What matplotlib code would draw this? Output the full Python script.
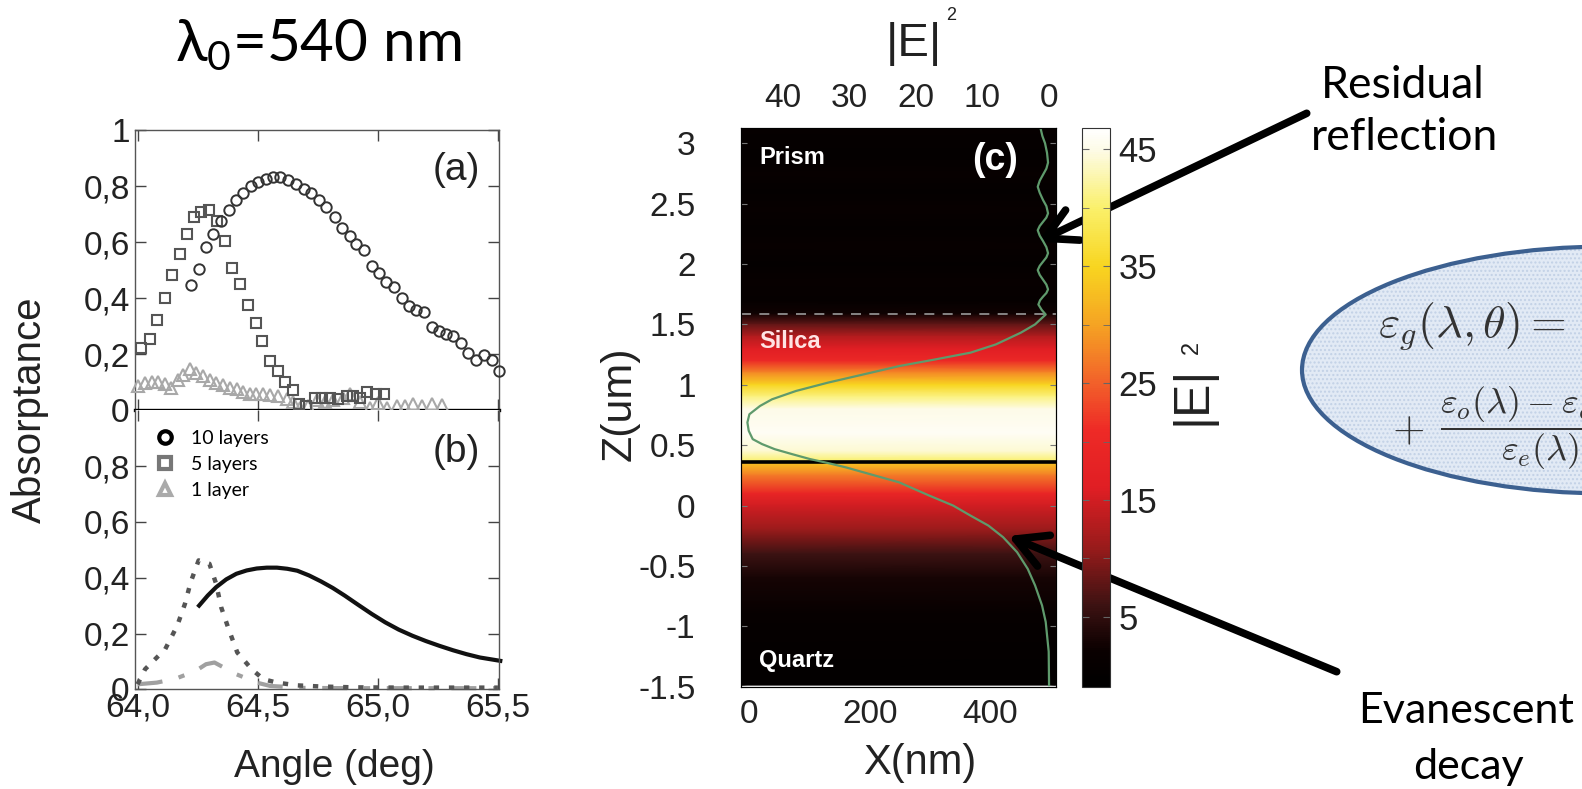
import matplotlib
matplotlib.use("Agg")
import matplotlib.pyplot as plt
import numpy as np
from matplotlib.colors import LinearSegmentedColormap
from matplotlib.patches import Ellipse
from matplotlib.lines import Line2D

W, H = 1582, 789

# (a) measured absorptance vs angle
ang_10 = [64.221, 64.254, 64.285, 64.315, 64.348, 64.379, 64.408, 64.439, 64.472, 64.503,
          64.535, 64.563, 64.594, 64.627, 64.661, 64.692, 64.723, 64.754, 64.785, 64.820,
          64.851, 64.883, 64.911, 64.942, 64.975, 65.006, 65.035, 65.066, 65.099, 65.130,
          65.161, 65.193, 65.225, 65.254, 65.285, 65.315, 65.348, 65.376, 65.408, 65.442,
          65.475, 65.503]
abs_10 = [0.446, 0.505, 0.583, 0.629, 0.677, 0.717, 0.753, 0.777, 0.800, 0.816,
          0.825, 0.834, 0.834, 0.822, 0.807, 0.792, 0.776, 0.753, 0.728, 0.689,
          0.653, 0.623, 0.593, 0.571, 0.514, 0.490, 0.460, 0.440, 0.400, 0.373,
          0.358, 0.352, 0.298, 0.283, 0.273, 0.265, 0.241, 0.205, 0.181, 0.199,
          0.181, 0.139]

ang_5 = [64.014, 64.052, 64.080, 64.113, 64.144, 64.175, 64.204, 64.235, 64.266, 64.299,
         64.331, 64.362, 64.393, 64.425, 64.458, 64.492, 64.520, 64.552, 64.583, 64.615,
         64.648, 64.672, 64.703, 64.738, 64.766, 64.800, 64.835, 64.870, 64.898, 64.925,
         64.956, 64.992, 65.025]
abs_5 = [0.223, 0.253, 0.322, 0.400, 0.484, 0.560, 0.631, 0.689, 0.710, 0.716,
         0.675, 0.605, 0.508, 0.452, 0.376, 0.313, 0.249, 0.175, 0.141, 0.102,
         0.072, 0.021, 0.015, 0.045, 0.045, 0.045, 0.039, 0.051, 0.051, 0.043,
         0.066, 0.057, 0.057]

ang_1 = [64.002, 64.030, 64.058, 64.085, 64.113, 64.141, 64.168, 64.189, 64.217, 64.245,
         64.273, 64.300, 64.328, 64.356, 64.384, 64.412, 64.439, 64.467, 64.495, 64.523,
         64.551, 64.585, 64.620, 64.648, 64.675, 64.710, 64.745, 64.780, 64.815, 64.856,
         64.884, 64.925, 64.967, 65.002, 65.037, 65.078, 65.113, 65.148, 65.182, 65.224,
         65.266]
abs_1 = [0.087, 0.098, 0.102, 0.102, 0.095, 0.078, 0.110, 0.126, 0.146, 0.134,
         0.122, 0.110, 0.098, 0.090, 0.081, 0.075, 0.066, 0.059, 0.057, 0.057,
         0.055, 0.051, 0.039, 0.030, 0.009, 0.015, 0.036, 0.030, 0.036, 0.043,
         0.057, 0.030, 0.009, 0.027, 0.009, 0.015, 0.015, 0.021, 0.015, 0.021,
         0.019]

# (b) calculated absorptance
ang_c10 = [64.256, 64.292, 64.327, 64.369, 64.411, 64.454, 64.496, 64.538, 64.580, 64.623,
           64.665, 64.714, 64.763, 64.813, 64.862, 64.918, 64.975, 65.031, 65.087, 65.144,
           65.200, 65.256, 65.313, 65.369, 65.425, 65.510]
abs_c10 = [0.300, 0.336, 0.366, 0.394, 0.414, 0.426, 0.433, 0.436, 0.436, 0.432,
           0.425, 0.408, 0.387, 0.363, 0.336, 0.303, 0.270, 0.240, 0.214, 0.192,
           0.173, 0.156, 0.140, 0.126, 0.114, 0.102]
ang_c5 = [64.000, 64.031, 64.115, 64.165, 64.197, 64.221, 64.254, 64.299, 64.327, 64.348,
          64.379, 64.415, 64.475, 64.524, 64.580, 64.665, 64.763, 64.900, 65.100, 65.300,
          65.500]
abs_c5 = [0.018, 0.072, 0.144, 0.228, 0.306, 0.384, 0.462, 0.450, 0.378, 0.294,
          0.216, 0.132, 0.072, 0.036, 0.024, 0.014, 0.010, 0.007, 0.006, 0.006,
          0.006]
ang_c1 = [64.000, 64.080, 64.158, 64.242, 64.285, 64.320, 64.411, 64.496, 64.552, 64.693,
          64.900, 65.200, 65.500]
abs_c1 = [0.018, 0.024, 0.038, 0.066, 0.090, 0.096, 0.054, 0.024, 0.012, 0.005,
          0.004, 0.004, 0.004]

# (c) |E|^2 profile along z (um)
z_prof = [3.13, 3.06, 3.00, 2.92, 2.84, 2.79, 2.74, 2.69, 2.64, 2.59,
          2.53, 2.48, 2.42, 2.385, 2.35, 2.315, 2.28, 2.235, 2.19, 2.14,
          2.09, 2.055, 2.02, 1.985, 1.95, 1.91, 1.87, 1.83, 1.79, 1.76,
          1.73, 1.70, 1.665, 1.62, 1.582, 1.50, 1.431, 1.334, 1.266, 1.21,
          1.155, 1.087, 1.018, 0.949, 0.880, 0.825, 0.756, 0.688, 0.619, 0.550,
          0.509, 0.467, 0.426, 0.385, 0.352, 0.316, 0.192, 0.083, 0.000, -0.083,
          -0.166, -0.262, -0.386, -0.524, -0.661, -0.827, -0.964, -1.21, -1.487]
e2_prof = [1.3, 1.0, 0.6, 0.3, 0.15, 0.4, 0.9, 1.4, 1.7, 1.4,
           0.9, 0.4, 0.15, 0.4, 0.9, 1.4, 1.7, 1.4, 0.9, 0.4,
           0.15, 0.4, 0.9, 1.4, 1.7, 1.4, 0.9, 0.4, 0.15, 0.4,
           0.9, 1.35, 1.6, 1.1, 0.5, 2.1, 4.25, 8.0, 11.8, 17.1,
           22.5, 27.8, 33.2, 38.0, 41.6, 43.4, 45.0, 45.3, 45.1, 44.5,
           43.1, 41.2, 38.6, 35.9, 33.2, 30.5, 22.5, 18.0, 14.4, 11.8,
           9.1, 6.9, 4.8, 3.2, 2.1, 1.05, 0.5, 0.05, 0.0]

# background map intensity along z
z_map = [3.13, 2.9, 2.75, 2.6, 2.45, 2.3, 2.15, 2.0, 1.85, 1.7,
         1.59, 1.5, 1.4, 1.3, 1.2, 1.1, 1.0, 0.9, 0.8, 0.6,
         0.45, 0.37, 0.35, 0.25, 0.1, 0.0, -0.2, -0.4, -0.6, -0.9,
         -1.2, -1.487]
e2_map = [0.8, 0.3, 1.2, 0.4, 1.3, 0.4, 1.3, 0.4, 1.2, 0.5,
          2.5, 8, 13, 16, 20, 28, 35, 41, 45, 46,
          44, 40, 33, 27, 19, 15, 11, 6, 3, 1,
          0.3, 0.0]

z_silica_top = 1.59
z_silica_bot = 0.362

x_nm = [-13, 508]

NARROW = ['Liberation Sans Narrow', 'Liberation Sans', 'DejaVu Sans']
SLIDE = ['Lato', 'DejaVu Sans']
plt.rcParams['font.family'] = NARROW
plt.rcParams['mathtext.fontset'] = 'custom'
plt.rcParams['mathtext.rm'] = 'Lato'
plt.rcParams['mathtext.it'] = 'Lato:italic'


def box(l, t, r, b):
    return [l / W, 1 - b / H, (r - l) / W, (b - t) / H]


fig = plt.figure(figsize=(W / 100, H / 100), dpi=100)

ax_a = fig.add_axes(box(135.2, 130.4, 498.6, 410.3))
ax_b = fig.add_axes(box(135.2, 410.3, 498.6, 689.3))

for ax in (ax_a, ax_b):
    ax.set_xlim(63.99, 65.503)
    ax.set_ylim(0, 1)
    for s in ax.spines.values():
        s.set_color('#555555')
        s.set_linewidth(1.0)
    ax.set_xticks([64.0, 64.5, 65.0, 65.5])
    ax.tick_params(direction='in', length=8, width=1, color='#444444', top=True, right=True,
                   labelsize=24, labelcolor='#222222', pad=4)
    ax.yaxis.set_major_formatter(plt.FuncFormatter(lambda v, p: ('%g' % round(v, 1)).replace('.', ',')))

ax_a.set_yticks([0, 0.2, 0.4, 0.6, 0.8, 1.0])
ax_a.tick_params(labelbottom=False)
ax_a.spines['bottom'].set_color('black')
ax_a.spines['bottom'].set_linewidth(2.4)
ax_b.set_yticks([0, 0.2, 0.4, 0.6, 0.8])
ax_b.spines['top'].set_visible(False)
ax_b.xaxis.set_major_formatter(plt.FuncFormatter(lambda v, p: ('%.1f' % v).replace('.', ',')))
ax_b.tick_params(axis='x', pad=2)

ax_a.plot(ang_1, abs_1, '^', ms=8, mfc='none', mec='#a8a8a8', mew=1.5, clip_on=False, zorder=3)
ax_a.plot(ang_5, abs_5, 's', ms=7, mfc='none', mec='#555555', mew=1.5, clip_on=False, zorder=4)
ax_a.plot(ang_10, abs_10, 'o', ms=7.5, mfc='none', mec='#333333', mew=1.4, clip_on=False, zorder=5)
fig.text(456 / W, 1 - 170 / H, '(a)', ha='center', va='center', size=28, color='#222222')

ax_b.plot(ang_c1, abs_c1, color='#a0a0a0', lw=3, ls=(0, (6, 4, 1.5, 4)), clip_on=False)
ax_b.plot(ang_c5, abs_c5, color='#555555', lw=3.2, ls=(0, (1.2, 2.2)), clip_on=False)
ax_b.plot(ang_c10, abs_c10, color='#111111', lw=3, clip_on=False)
fig.text(456 / W, 1 - 452 / H, '(b)', ha='center', va='center', size=28, color='#222222')

handles = [Line2D([], [], ls='none', marker='o', ms=9, mfc='none', mec='black', mew=3),
           Line2D([], [], ls='none', marker='s', ms=9, mfc='none', mec='#777777', mew=3),
           Line2D([], [], ls='none', marker='^', ms=9, mfc='none', mec='#aaaaaa', mew=3)]
ax_b.legend(handles, ['10 layers', '5 layers', '1 layer'], loc='upper left',
            bbox_to_anchor=(155.6 / W, 1 - 430 / H), bbox_transform=fig.transFigure,
            frameon=False, prop={'family': SLIDE, 'size': 14}, borderpad=0, borderaxespad=0,
            handlelength=1.0, handletextpad=0.8, labelspacing=0.47)

fig.text(30.4 / W, 1 - 410 / H, 'Absorptance', rotation=90, ha='center', va='center', size=29, color='#222222')
fig.text(334.6 / W, 1 - 766.7 / H, 'Angle (deg)', ha='center', va='center', size=28, color='#222222')
fig.text(318 / W, 1 - 45 / H, r'λ$_0$=540 nm', ha='center', va='center', size=42,
         family=SLIDE, color='black')

# (c) field map
cmap = LinearSegmentedColormap.from_list('field', [
    (0.000, '#000000'), (0.063, '#0a0000'), (0.146, '#3d1212'), (0.251, '#9a1b1b'),
    (0.356, '#e01e24'), (0.460, '#ee2a26'), (0.544, '#f2602a'), (0.649, '#f5a323'),
    (0.753, '#f8d520'), (0.858, '#faf06a'), (0.962, '#fdfbe6'), (1.000, '#ffffff')])

ax_c = fig.add_axes(box(741.4, 127.7, 1055.7, 686.7))
X, Z = np.meshgrid(x_nm, z_map)
C = np.repeat(np.array(e2_map)[:, None], 2, axis=1)
mesh = ax_c.pcolormesh(X, Z, C, cmap=cmap, vmin=-1, vmax=46.8, shading='gouraud')
ax_c.set_xlim(x_nm)
ax_c.set_ylim(-1.487, 3.129)
ax_c.axhline(z_silica_top, color='#9a9a9a', lw=1.2, ls=(0, (6, 5)))
ax_c.axhline(z_silica_bot, color='black', lw=2.6)
ax_c.set_xticks([0, 200, 400])
ax_c.set_yticks([-1.5, -1, -0.5, 0, 0.5, 1, 1.5, 2, 2.5, 3])
ax_c.yaxis.set_major_formatter(plt.FuncFormatter(lambda v, p: '%g' % v))
ax_c.tick_params(axis='y', direction='in', length=4, color='#777777', right=True,
                 labelsize=24, pad=33, labelcolor='#222222')
ax_c.tick_params(axis='x', direction='in', length=0, labelsize=24, pad=9, labelcolor='#222222')
for s in ax_c.spines.values():
    s.set_color('#333333')

ax_top = ax_c.twiny()
ax_top.set_xlim(46.2, -1.0)
ax_top.plot(e2_prof, z_prof, color='#5f9a6c', lw=1.6)
ax_top.set_xticks([40, 30, 20, 10, 0])
ax_top.tick_params(axis='x', direction='in', length=0, labelsize=24, pad=10, labelcolor='#222222')

ax_c.text(759, H - 157, 'Prism', transform=None, color='white', size=17, weight='bold', va='center')
ax_c.text(995, H - 160, '(c)', transform=None, color='white', size=27, weight='bold', ha='center', va='center')
ax_c.text(759, H - 342, 'Silica', transform=None, color='#ffe4e4', size=17, weight='bold', va='center')
ax_c.text(759, H - 660, 'Quartz', transform=None, color='white', size=17, weight='bold', va='center')

fig.text(914 / W, 1 - 44 / H, '|E|', ha='center', va='center', size=34, color='#222222')
fig.text(951 / W, 1 - 16 / H, '2', ha='center', va='center', size=13, color='#222222')
fig.text(920 / W, 1 - 763 / H, 'X(nm)', ha='center', va='center', size=30, color='#222222')
fig.text(620 / W, 1 - 404 / H, 'Z(um)', rotation=90, ha='center', va='center', size=31, color='#222222')

cax = fig.add_axes(box(1081.7, 128.3, 1110, 687))
cb = fig.colorbar(mesh, cax=cax, ticks=[5, 15, 25, 35, 45])
cb.outline.set_edgecolor('#333333')
cax.tick_params(direction='in', length=5, color='#666666', labelsize=25, pad=6, labelcolor='#222222')
cax.set_yticks([10, 20, 30, 40], minor=True)
cax.tick_params(which='minor', direction='in', length=5, color='#666666', left=True, right=True)
cax.tick_params(which='major', left=True, right=True)
fig.text(1192 / W, 1 - 395 / H, '|E|', rotation=90, ha='center', va='center', size=36, color='#222222')
fig.text(1192 / W, 1 - 347 / H, '2', rotation=90, ha='center', va='center', size=17, color='#222222')

# annotations
arrow = dict(arrowstyle='->,head_length=0.55,head_width=0.3', lw=5.5, color='black',
             shrinkA=0, shrinkB=0, mutation_scale=40)
ax_c.annotate('', xy=(1038, H - 241.7), xytext=(1306.7, H - 113.3), xycoords='figure pixels',
              textcoords='figure pixels', annotation_clip=False, arrowprops=arrow)
ax_c.annotate('', xy=(1008.3, H - 536), xytext=(1336.7, H - 671.7), xycoords='figure pixels',
              textcoords='figure pixels', annotation_clip=False, arrowprops=arrow)
fig.text(1403 / W, 1 - 86 / H, 'Residual', ha='center', va='center', size=32, family=SLIDE)
fig.text(1405 / W, 1 - 138 / H, 'reflection', ha='center', va='center', size=32, family=SLIDE)
fig.text(1466 / W, 1 - 711 / H, 'Evanescent', ha='center', va='center', size=31, family=SLIDE)
fig.text(1468 / W, 1 - 767 / H, 'decay', ha='center', va='center', size=31, family=SLIDE)

# formula bubble
fig.add_artist(Ellipse((1608 / W, 1 - 370 / H), 612 / W, 247 / H, facecolor='#e2eaf5',
                       edgecolor='#c2d1e6', hatch='....', lw=0, zorder=1))
fig.add_artist(Ellipse((1608 / W, 1 - 370 / H), 612 / W, 247 / H, facecolor='none',
                       edgecolor='#3c6090', lw=3, zorder=2))
fig.text(1378 / W, 1 - 326 / H, r'$\varepsilon_g(\lambda,\theta) =$', ha='left', va='center',
         size=33, math_fontfamily='cm', color='#333333', zorder=3)
fig.text(1392 / W, 1 - 430 / H, r'$+$', ha='left', va='center', size=30, math_fontfamily='cm',
         color='#333333', zorder=3)
fig.text(1440 / W, 1 - 428 / H, r'$\dfrac{\varepsilon_o(\lambda)-\varepsilon_e(\lambda)}{\varepsilon_e(\lambda)}$',
         ha='left', va='center', size=26, math_fontfamily='cm', color='#333333', zorder=3)

fig.savefig('out.png', dpi=100)
